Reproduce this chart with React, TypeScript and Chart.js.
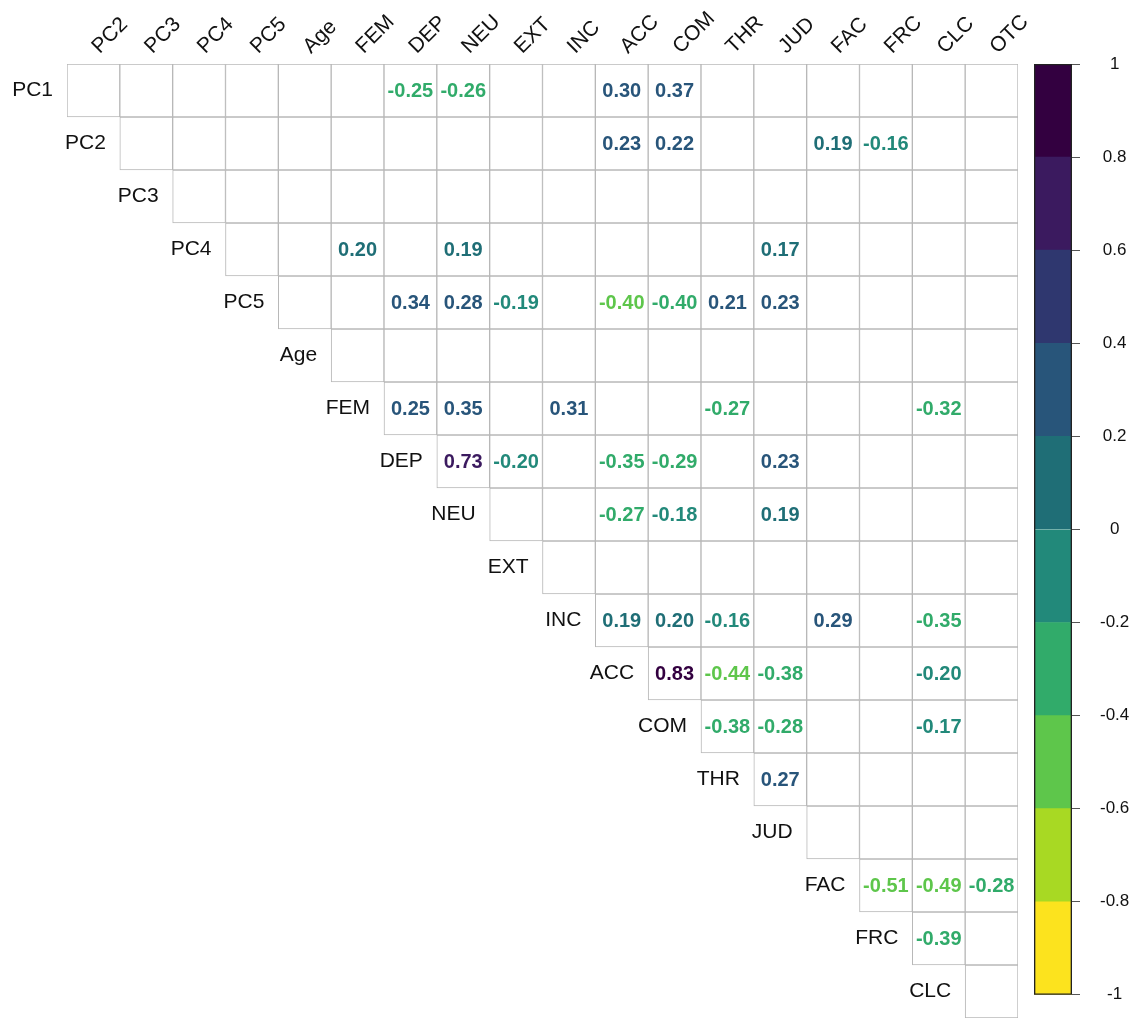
import React, { useEffect, useRef } from "react";
import { Chart, registerables } from "chart.js";

Chart.register(...registerables);

const N = null;

const colLabels = ["PC2", "PC3", "PC4", "PC5", "Age", "FEM", "DEP", "NEU", "EXT", "INC", "ACC", "COM", "THR", "JUD", "FAC", "FRC", "CLC", "OTC"];
const rowLabels = ["PC1", "PC2", "PC3", "PC4", "PC5", "Age", "FEM", "DEP", "NEU", "EXT", "INC", "ACC", "COM", "THR", "JUD", "FAC", "FRC", "CLC"];

// correlation values per row, one entry per column (PC2 ... OTC); null = blank
const rowPC1 = [N, N, N, N, N, N, -0.25, -0.26, N, N, 0.30, 0.37, N, N, N, N, N, N];
const rowPC2 = [N, N, N, N, N, N, N, N, N, N, 0.23, 0.22, N, N, 0.19, -0.16, N, N];
const rowPC3 = [N, N, N, N, N, N, N, N, N, N, N, N, N, N, N, N, N, N];
const rowPC4 = [N, N, N, N, N, 0.199, N, 0.19, N, N, N, N, N, 0.17, N, N, N, N];
const rowPC5 = [N, N, N, N, N, N, 0.34, 0.28, -0.19, N, -0.402, -0.398, 0.21, 0.23, N, N, N, N];
const rowAge = [N, N, N, N, N, N, N, N, N, N, N, N, N, N, N, N, N, N];
const rowFEM = [N, N, N, N, N, N, 0.25, 0.35, N, 0.31, N, N, -0.27, N, N, N, -0.32, N];
const rowDEP = [N, N, N, N, N, N, N, 0.73, -0.199, N, -0.35, -0.29, N, 0.23, N, N, N, N];
const rowNEU = [N, N, N, N, N, N, N, N, N, N, -0.27, -0.18, N, 0.19, N, N, N, N];
const rowEXT = [N, N, N, N, N, N, N, N, N, N, N, N, N, N, N, N, N, N];
const rowINC = [N, N, N, N, N, N, N, N, N, N, 0.19, 0.199, -0.16, N, 0.29, N, -0.35, N];
const rowACC = [N, N, N, N, N, N, N, N, N, N, N, 0.83, -0.44, -0.38, N, N, -0.199, N];
const rowCOM = [N, N, N, N, N, N, N, N, N, N, N, N, -0.38, -0.28, N, N, -0.17, N];
const rowTHR = [N, N, N, N, N, N, N, N, N, N, N, N, N, 0.27, N, N, N, N];
const rowJUD = [N, N, N, N, N, N, N, N, N, N, N, N, N, N, N, N, N, N];
const rowFAC = [N, N, N, N, N, N, N, N, N, N, N, N, N, N, N, -0.51, -0.49, -0.28];
const rowFRC = [N, N, N, N, N, N, N, N, N, N, N, N, N, N, N, N, -0.39, N];
const rowCLC = [N, N, N, N, N, N, N, N, N, N, N, N, N, N, N, N, N, N];

const rows: (number | null)[][] = [rowPC1, rowPC2, rowPC3, rowPC4, rowPC5, rowAge, rowFEM, rowDEP, rowNEU, rowEXT, rowINC, rowACC, rowCOM, rowTHR, rowJUD, rowFAC, rowFRC, rowCLC];

// colour bins from -1 (bottom) to 1 (top)
const binEdges = [-1, -0.8, -0.6, -0.4, -0.2, 0, 0.2, 0.4, 0.6, 0.8, 1];
const binColors = ["#FCE31E", "#A8D923", "#5EC64B", "#31AB6A", "#22897A", "#1F6E76", "#28557A", "#2F376F", "#3B1A5F", "#330040"];

const FONT = '"Liberation Sans", Arial, Helvetica, sans-serif';

const cellColor = (v: number) => {
  const idx = Math.min(9, Math.max(0, Math.floor((v + 1) / 0.2)));
  return binColors[idx];
};

const cellTextPlugin = {
  id: "cellText",
  afterDatasetsDraw(chart: any) {
    const ctx = chart.ctx;
    ctx.save();
    rows.forEach((vals, i) => {
      const meta = chart.getDatasetMeta(i);
      ctx.font = `bold 20px ${FONT}`;
      ctx.textAlign = "center";
      ctx.textBaseline = "middle";
      vals.forEach((v, j) => {
        if (v == null || j < i) return;
        const el = meta.data[j];
        ctx.fillStyle = cellColor(v);
        ctx.fillText(v.toFixed(2), el.x, (el.y + el.base) / 2 + 1);
      });
      const first = meta.data[i];
      ctx.font = `21px ${FONT}`;
      ctx.fillStyle = "#111";
      ctx.textAlign = "right";
      ctx.fillText(rowLabels[i], first.x - first.width / 2 - 14, (first.y + first.base) / 2);
    });
    ctx.restore();
  },
};

export default function App() {
  const matRef = useRef<HTMLCanvasElement>(null);
  const barRef = useRef<HTMLCanvasElement>(null);

  useEffect(() => {
    const datasets = rows.map((vals, i) => ({
      label: rowLabels[i],
      data: colLabels.map((_, j) => (j >= i ? [i, i + 1] : null)),
      backgroundColor: "#ffffff",
      borderColor: "#b8b8b8",
      borderWidth: 1,
      borderSkipped: false,
      barPercentage: 1,
      categoryPercentage: 1,
      grouped: false,
    }));

    const mat = new Chart(matRef.current as HTMLCanvasElement, {
      type: "bar",
      data: { labels: colLabels, datasets: datasets as any },
      options: {
        animation: false,
        responsive: false,
        devicePixelRatio: 1,
        layout: { padding: { left: 67, right: 118, top: 0, bottom: 7 } },
        plugins: { legend: { display: false }, tooltip: { enabled: false } },
        scales: {
          x: {
            type: "category",
            position: "top",
            grid: { display: false },
            border: { display: false },
            ticks: {
              autoSkip: false,
              minRotation: 45,
              maxRotation: 45,
              padding: -3,
              labelOffset: 20,
              color: "#111",
              font: { family: FONT, size: 21 },
            },
            afterFit: (s: any) => {
              s.height = 64;
              s.paddingLeft = 0;
              s.paddingRight = 0;
            },
          },
          y: {
            type: "linear",
            min: 0,
            max: rowLabels.length,
            reverse: true,
            display: false,
          },
        },
      } as any,
      plugins: [cellTextPlugin],
    });

    const barSets: any[] = [
      {
        data: [[binEdges[0], binEdges[binEdges.length - 1]]],
        backgroundColor: "rgba(0,0,0,0)",
        borderColor: "#222",
        borderWidth: 1,
        borderSkipped: false,
        barPercentage: 1,
        categoryPercentage: 1,
        grouped: false,
      },
    ];
    binColors.forEach((c, k) => {
      barSets.push({
        data: [[binEdges[k], binEdges[k + 1]]],
        backgroundColor: c,
        borderWidth: 0,
        barPercentage: 1,
        categoryPercentage: 1,
        grouped: false,
      });
    });

    const bar = new Chart(barRef.current as HTMLCanvasElement, {
      type: "bar",
      data: { labels: [""], datasets: barSets },
      options: {
        animation: false,
        responsive: false,
        devicePixelRatio: 1,
        layout: { padding: { left: 34, right: 0, top: 64, bottom: 9 } },
        plugins: { legend: { display: false }, tooltip: { enabled: false } },
        scales: {
          x: { display: false },
          y: {
            type: "linear",
            position: "right",
            min: -1,
            max: 1,
            border: { display: false },
            grid: { drawOnChartArea: false, drawTicks: true, tickLength: 8, color: "#555" },
            ticks: {
              stepSize: 0.2,
              crossAlign: "center",
              padding: 20,
              color: "#111",
              font: { family: FONT, size: 17 },
              callback: (v: any) => String(parseFloat(Number(v).toFixed(1))),
            },
            afterFit: (s: any) => {
              s.width = 64;
            },
          },
        },
      } as any,
    });

    return () => {
      mat.destroy();
      bar.destroy();
    };
  }, []);

  return (
    <div style={{ position: "absolute", left: 0, top: 0, width: 1136, height: 1025, background: "#fff" }}>
      <canvas ref={matRef} width={1136} height={1025} style={{ position: "absolute", left: 0, top: 0 }} />
      <canvas ref={barRef} width={136} height={1025} style={{ position: "absolute", left: 1000, top: 0 }} />
    </div>
  );
}
